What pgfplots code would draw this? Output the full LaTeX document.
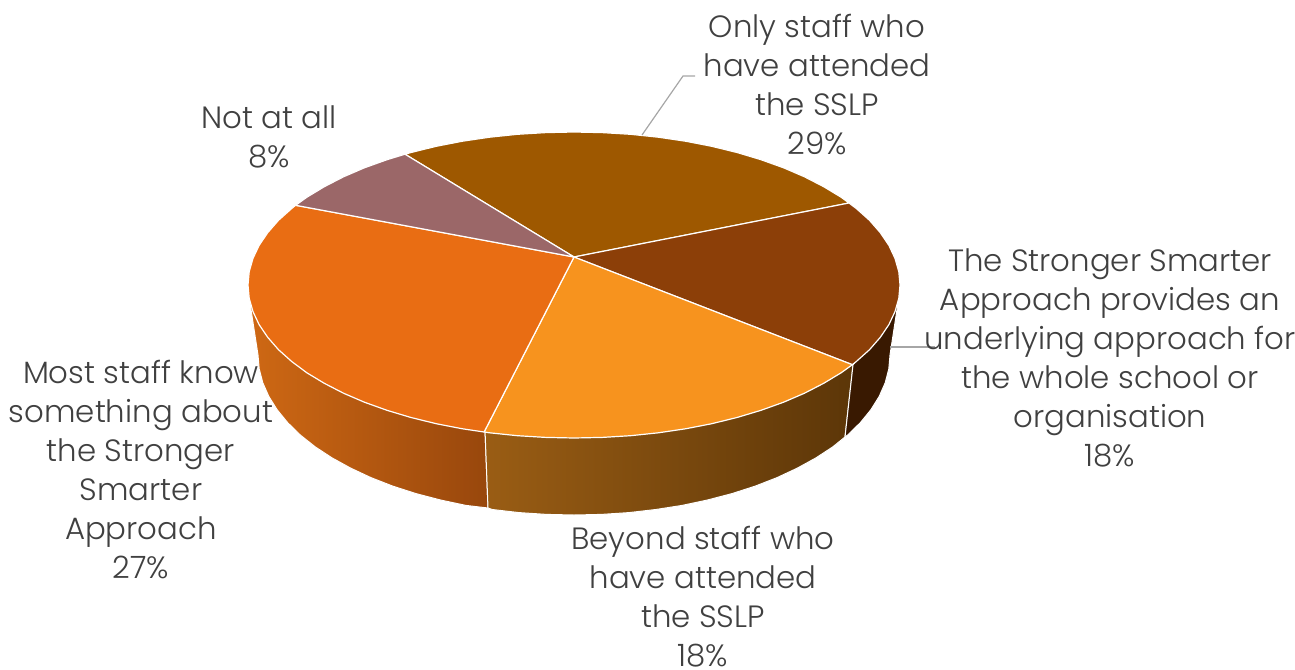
\documentclass[border=0pt]{standalone}
\usepackage{pgfplots}
\pgfplotsset{compat=1.18}
\usepackage{fontspec}
\setmainfont{Poppins}[UprightFont=* Light]
\definecolor{lbl}{HTML}{404040}
\definecolor{leader}{HTML}{A6A6A6}
\definecolor{cOnly}{HTML}{9E5800}
\definecolor{cSS}{HTML}{8C3F08}
\definecolor{cBeyond}{HTML}{F7931E}
\definecolor{cMost}{HTML}{E96D13}
\definecolor{cNot}{HTML}{9B6768}
\definecolor{sMostL}{HTML}{CE6814}
\definecolor{sMostR}{HTML}{98470C}
\tikzset{lab/.style={align=center,text=lbl,font=\fontsize{30.8}{39}\selectfont,inner sep=0pt}}
\begin{document}
\begin{tikzpicture}
\path[use as bounding box] (0,0) rectangle (1295pt,669pt);
\clip (0,0) rectangle (1295pt,669pt);
\begin{axis}[at={(0,0)},anchor=south west,width=1295pt,height=669pt,scale only axis,hide axis,
  xmin=0,xmax=1295,ymin=0,ymax=669,y dir=reverse,clip=false]
% sides
\addplot[left color=sMostL,right color=sMostR,draw=white,line width=1pt] coordinates {
(250,303)(485,430)(488,508)(465.9,505.4)(440.5,500)(416,493.6)(392.7,486.1)(370.9,477.6)(350.6,468.1)(331.9,457.8)(315.1,446.8)(300.3,435)(287.6,422.6)(277.1,409.7)(268.8,396.4)(262.8,382.8)(259.2,368.9)(258,355)} -- cycle;
\addplot[left color={rgb,255:red,154;green,93;blue,20},middle color={rgb,255:red,110;green,67;blue,14},right color={rgb,255:red,92;green,54;blue,8},draw=white,line width=1pt] coordinates {
(485,430)(853,365)(845,437)(832.9,446.8)(816.1,457.8)(797.4,468.1)(777.1,477.6)(755.3,486.1)(732,493.6)(707.5,500)(682.1,505.4)(655.8,509.5)(628.9,512.6)(601.5,514.4)(574,515)(546.5,514.4)(519.1,512.6)(492.2,509.5)(488,508)} -- cycle;
\addplot[fill={rgb,255:red,57;green,25;blue,1},draw=white,line width=1pt] coordinates {
(853,365)(898,303)(890,355)(888.8,368.9)(885.2,382.8)(879.2,396.4)(870.9,409.7)(860.4,422.6)(847.7,435)(845,437)} -- cycle;
% top
\addplot[fill=cOnly,draw=white,line width=1.2pt,line join=round] coordinates {
(574,257)(405,154.2)(411,152.5)(436.2,146.3)(462.5,141.2)(489.6,137.2)(517.4,134.3)(545.6,132.6)(574,132)(602.4,132.6)(630.6,134.3)(658.4,137.2)(685.5,141.2)(711.8,146.3)(737,152.5)(761,159.7)(783.6,167.8)(804.5,176.8)(823.7,186.7)(841.1,197.2)(849,203)} -- cycle;
\addplot[fill=cSS,draw=white,line width=1.2pt,line join=round] coordinates {
(574,257)(849,203)(856.3,208.5)(869.5,220.3)(880.3,232.7)(888.9,245.4)(895,258.4)(898.8,271.7)(900,285)(898.8,298.3)(895,311.6)(888.9,324.6)(880.3,337.3)(869.5,349.7)(856.3,361.5)(852.4,364.7)} -- cycle;
\addplot[fill=cBeyond,draw=white,line width=1.2pt,line join=round] coordinates {
(574,257)(852.4,364.7)(841.1,372.8)(823.7,383.3)(804.5,393.2)(783.6,402.2)(761,410.3)(737,417.5)(711.8,423.7)(685.5,428.8)(658.4,432.8)(630.6,435.7)(602.4,437.4)(574,438)(545.6,437.4)(517.4,435.7)(489.6,432.8)(484.1,432)} -- cycle;
\addplot[fill=cMost,draw=white,line width=1.2pt,line join=round] coordinates {
(574,257)(484.1,432)(462.5,428.8)(436.2,423.7)(411,417.5)(387,410.3)(364.4,402.2)(343.5,393.2)(324.3,383.3)(306.9,372.8)(291.7,361.5)(278.5,349.7)(267.7,337.3)(259.1,324.6)(253,311.6)(249.2,298.3)(248,285)(249.2,271.7)(253,258.4)(259.1,245.4)(267.7,232.7)(278.5,220.3)(291.7,208.5)(295.6,205.3)} -- cycle;
\addplot[fill=cNot,draw=white,line width=1.2pt,line join=round] coordinates {
(574,257)(295.6,205.3)(306.9,197.2)(324.3,186.7)(343.5,176.8)(364.4,167.8)(387,159.7)(405,154.2)} -- cycle;
% leaders
\addplot[leader,line width=1.2pt] coordinates {(642,135)(683,76)(695,76)};
\addplot[leader,line width=1.2pt] coordinates {(890,347)(935,347)};
% labels
\node[lab] at (axis cs:817,85) {Only staff who\\have attended\\the SSLP\\29\%};
\node[lab] at (axis cs:269,137) {Not at all\\8\%};
\node[lab] at (axis cs:1110,358) {The Stronger Smarter\\Approach provides an\\underlying approach for\\the whole school or\\organisation\\18\%};
\node[lab] at (axis cs:703,596.5) {Beyond staff who\\have attended\\the SSLP\\18\%};
\node[lab] at (axis cs:141,470) {Most staff know\\something about\\the Stronger\\Smarter\\Approach\\27\%};
\end{axis}
\end{tikzpicture}
\end{document}
